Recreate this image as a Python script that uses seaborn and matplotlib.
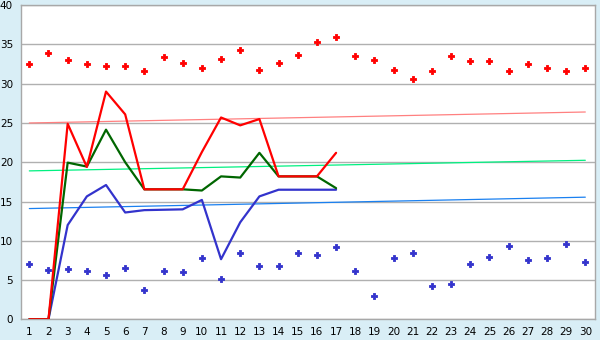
import matplotlib
matplotlib.use("Agg")
import matplotlib.pyplot as plt
import seaborn as sns
import pandas as pd

# ---- data ----
days = list(range(1, 31))
line_days = list(range(1, 18))

red_line = [0, 0, 24.9, 19.4, 29.0, 26.1, 16.55, 16.55, 16.55, 21.3, 25.7, 24.7, 25.5, 18.2, 18.2, 18.2, 21.2]
green_line = [0, 0, 19.95, 19.45, 24.15, 20.0, 16.55, 16.55, 16.55, 16.4, 18.2, 18.05, 21.2, 18.2, 18.2, 18.2, 16.7]
blue_line = [0, 0, 12.0, 15.65, 17.1, 13.6, 13.9, 13.95, 14.0, 15.2, 7.65, 12.35, 15.65, 16.5, 16.5, 16.5, 16.5]

red_points = [32.5, 33.9, 33.0, 32.5, 32.2, 32.2, 31.6, 33.4, 32.6, 32.0,
              33.2, 34.3, 31.7, 32.6, 33.6, 35.3, 36.0, 33.5, 33.0, 31.8,
              30.6, 31.6, 33.5, 32.9, 32.9, 31.6, 32.5, 32.0, 31.6, 32.0]
blue_points = [7.0, 6.3, 6.4, 6.1, 5.7, 6.5, 3.7, 6.2, 6.0, 7.8,
               5.1, 8.5, 6.75, 6.75, 8.4, 8.15, 9.2, 6.2, 2.9, 7.8,
               8.5, 4.2, 4.5, 7.0, 7.9, 9.3, 7.6, 7.8, 9.55, 7.3]

trend_days = [1, 30]
trend_red = [25.0, 26.4]
trend_green = [18.9, 20.25]
trend_blue = [14.1, 15.55]

y_ticks = [0, 5, 10, 15, 20, 25, 30, 35, 40]

# ---- style ----
sns.set_style("white")
plt.rcParams['font.family'] = ['DejaVu Sans']

bg = '#d9eef6'
fig = plt.figure(figsize=(6, 3.4), dpi=100, facecolor=bg)
ax = fig.add_axes([0.0345, 0.061, 0.957, 0.9236])
ax.set_facecolor('white')

lines_df = pd.DataFrame({'day': line_days, 'red': red_line, 'green': green_line, 'blue': blue_line})
pts_df = pd.DataFrame({'day': days, 'red': red_points, 'blue': blue_points})
tr_df = pd.DataFrame({'day': trend_days, 'red': trend_red, 'green': trend_green, 'blue': trend_blue})

ax.set_axisbelow(True)
ax.yaxis.grid(True, color='#b0b0b0', linewidth=1.0)
ax.xaxis.grid(False)

# trend lines
sns.lineplot(data=tr_df, x='day', y='red', color='#ff8080', linewidth=0.9, ax=ax, zorder=2)
sns.lineplot(data=tr_df, x='day', y='green', color='#00f080', linewidth=0.9, ax=ax, zorder=2)
sns.lineplot(data=tr_df, x='day', y='blue', color='#1a80f0', linewidth=0.9, ax=ax, zorder=2)

# main lines
sns.lineplot(data=lines_df, x='day', y='blue', color='#3333cc', linewidth=1.6, ax=ax, zorder=3)
sns.lineplot(data=lines_df, x='day', y='green', color='#006600', linewidth=1.6, ax=ax, zorder=4)
sns.lineplot(data=lines_df, x='day', y='red', color='#ff0000', linewidth=1.6, ax=ax, zorder=5)

# points
sns.scatterplot(data=pts_df, x='day', y='red', color='#ff0000', marker='P', s=20,
                edgecolor='#ff0000', linewidth=0.6, ax=ax, zorder=6)
sns.scatterplot(data=pts_df, x='day', y='blue', color='#3333cc', marker='P', s=20,
                edgecolor='#3333cc', linewidth=0.6, ax=ax, zorder=6)

ax.set_xlim(0.55, 30.5)
ax.set_ylim(0, 40)
ax.set_xticks(days)
ax.set_xticklabels([str(d) for d in days])
ax.set_yticks(y_ticks)
ax.set_yticklabels([str(v) for v in y_ticks])
ax.set_xlabel('')
ax.set_ylabel('')

for s in ax.spines.values():
    s.set_color('#a8a8a8')
    s.set_linewidth(1.0)
    s.set_visible(True)

ax.tick_params(axis='both', which='major', labelsize=7.5, colors='black',
               length=4, width=1, direction='out', pad=1.5)

fig.savefig('out.png', dpi=100, facecolor=bg)
